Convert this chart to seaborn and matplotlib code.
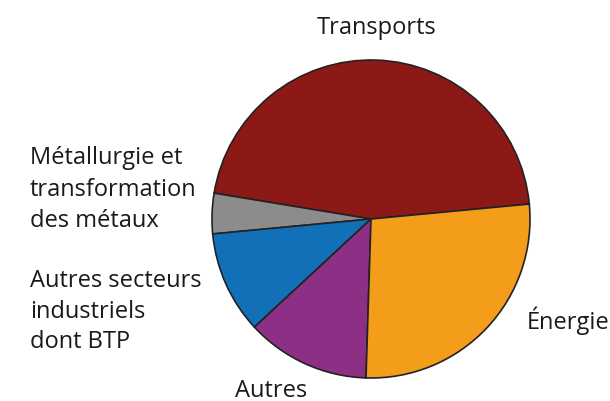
import matplotlib
matplotlib.use("Agg")
import matplotlib.pyplot as plt
import seaborn as sns

categories = ["Transports", "Métallurgie et\ntransformation\ndes métaux",
              "Autres secteurs\nindustriels\ndont BTP", "Autres", "Énergie"]
values = [45.9, 4.1, 10.4, 12.6, 27.0]
colors = ["#8C1915", "#8C8C8C", "#1170B8", "#8E2F86", "#F49D1A"]

sns.set_theme(style="white")
plt.rcParams['font.family'] = ['Open Sans', 'DejaVu Sans']

H = 401
fig = plt.figure(figsize=(6.10, 4.01), dpi=100)
ax = fig.add_axes([0, 0, 1, 1])
ax.axis('off')

ax.pie(values, colors=colors, startangle=5.4, counterclock=True,
       center=(371, H - 219), radius=159,
       wedgeprops=dict(edgecolor="#222222", linewidth=1.2))

ax.set_xlim(0, 610)
ax.set_ylim(0, H)
ax.set_aspect('equal')

fs = 17
tc = '#1a1a1a'

def put(x, y_px, s, ha='left'):
    ax.text(x, H - y_px, s, ha=ha, va='baseline', fontsize=fs, color=tc)

put(377, 34, categories[0], ha='center')
put(527, 329, categories[4])
put(235, 397, categories[3])
for i, line in enumerate(categories[1].split("\n")):
    put(30, 164 + 31.5 * i, line)
for i, line in enumerate(categories[2].split("\n")):
    put(30, 287 + 30.5 * i, line)

fig.savefig("out.png", dpi=100)
